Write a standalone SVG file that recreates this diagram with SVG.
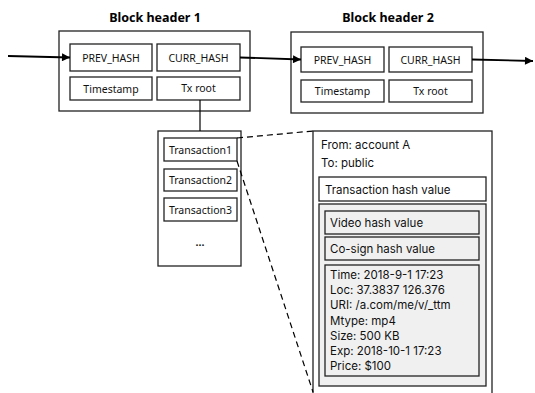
<svg xmlns="http://www.w3.org/2000/svg" width="535" height="393" viewBox="0 0 535 393">
<defs>
<marker id="arr" viewBox="0 0 10 10" refX="10" refY="5" markerWidth="10" markerHeight="8" markerUnits="userSpaceOnUse" orient="auto">
<path d="M0,0 L10,5 L0,10 z" fill="#000"/>
</marker>
<style>
.box{fill:#fff;stroke:#222;stroke-width:1.3}
.gbox{fill:#f0f0f0;stroke:#222;stroke-width:1.3}
.lbl{font-family:"Noto Sans","Open Sans",sans-serif;font-size:10.5px;fill:#111;text-anchor:middle}
.ttl{font-family:"Noto Sans","Open Sans",sans-serif;font-size:12.5px;font-weight:bold;fill:#000;text-anchor:middle}
.txt{font-family:Inter,"Noto Sans",sans-serif;font-size:11.5px;fill:#111}
.ln{stroke:#000;stroke-width:1.8;fill:none}
.dash{stroke:#000;stroke-width:1.2;fill:none;stroke-dasharray:6,4}
</style>
</defs>
<rect width="535" height="393" fill="#fff"/>
<g id="block1">
<text class="ttl" x="155" y="22">Block header 1</text>
<rect class="box" x="59" y="31" width="191" height="80"/>
<rect class="box" x="70" y="44" width="82" height="27"/>
<text class="lbl" x="111" y="61.5">PREV_HASH</text>
<rect class="box" x="157" y="44" width="83" height="27"/>
<text class="lbl" x="198.5" y="61.5">CURR_HASH</text>
<rect class="box" x="70" y="77" width="82" height="23"/>
<text class="lbl" x="111" y="92.5">Timestamp</text>
<rect class="box" x="157" y="77" width="83" height="23"/>
<text class="lbl" x="198.5" y="92">Tx root</text>
</g>
<g id="block2">
<text class="ttl" x="388" y="22">Block header 2</text>
<rect class="box" x="291" y="32" width="192" height="81"/>
<rect class="box" x="301" y="47" width="83" height="25"/>
<text class="lbl" x="342.5" y="63.5">PREV_HASH</text>
<rect class="box" x="389" y="47" width="83" height="25"/>
<text class="lbl" x="430.5" y="63.5">CURR_HASH</text>
<rect class="box" x="301" y="80" width="83" height="22"/>
<text class="lbl" x="342.5" y="95">Timestamp</text>
<rect class="box" x="389" y="80" width="83" height="22"/>
<text class="lbl" x="430.5" y="95">Tx root</text>
</g>
<g id="transactions">
<rect class="box" x="158" y="131" width="83" height="135"/>
<rect class="box" x="164" y="138" width="73" height="23"/>
<text class="lbl" x="200.5" y="153.5">Transaction1</text>
<rect class="box" x="164" y="169" width="73" height="22"/>
<text class="lbl" x="200.5" y="184">Transaction2</text>
<rect class="box" x="164" y="198" width="73" height="23"/>
<text class="lbl" x="200.5" y="213.5">Transaction3</text>
<text class="lbl" x="200" y="246" style="font-weight:bold">...</text>
</g>
<g id="detail">
<rect class="box" x="313" y="131" width="179" height="275"/>
<text class="txt" x="321" y="149">From: account A</text>
<text class="txt" x="321" y="167">To: public</text>
<rect class="box" x="319" y="177" width="167" height="24"/>
<text class="txt" x="325" y="193.5">Transaction hash value</text>
<rect class="gbox" x="319" y="204" width="167" height="182"/>
<rect class="gbox" x="325" y="211" width="154" height="23"/>
<text class="txt" x="330" y="226.5">Video hash value</text>
<rect class="gbox" x="325" y="237" width="154" height="23"/>
<text class="txt" x="330" y="252.5">Co-sign hash value</text>
<rect class="gbox" x="325" y="265" width="154" height="111"/>
<text class="txt" x="330" y="279">Time: 2018-9-1 17:23</text>
<text class="txt" x="330" y="294">Loc: 37.3837 126.376</text>
<text class="txt" x="330" y="309">URI: /a.com/me/v/_ttm</text>
<text class="txt" x="330" y="324.5">Mtype: mp4</text>
<text class="txt" x="330" y="340">Size: 500 KB</text>
<text class="txt" x="330" y="355">Exp: 2018-10-1 17:23</text>
<text class="txt" x="330" y="370">Price: $100</text>
</g>
<g id="connectors">
<line class="ln" x1="8" y1="56" x2="70" y2="57.5" marker-end="url(#arr)"/>
<line class="ln" x1="240" y1="57.5" x2="301" y2="59.5" marker-end="url(#arr)"/>
<line class="ln" x1="472" y1="59.5" x2="533" y2="61" marker-end="url(#arr)"/>
<line x1="200" y1="100" x2="200" y2="131" stroke="#000" stroke-width="1.2"/>
<line class="dash" x1="237" y1="138" x2="313" y2="131"/>
<line class="dash" x1="237" y1="161" x2="313" y2="392"/>
</g>
</svg>
